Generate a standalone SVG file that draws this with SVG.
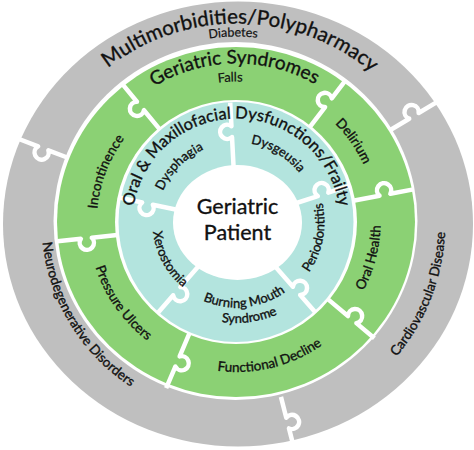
<svg xmlns="http://www.w3.org/2000/svg" width="474" height="450" viewBox="0 0 474 450">
<style>
.t{font-family:Lato,"Liberation Sans",sans-serif;fill:#111;stroke:#111;stroke-width:0.35}
.dv{fill:none;stroke:#fff;stroke-width:4.5;stroke-linejoin:round}
</style>
<defs>
<path id="pMulti" d="M35.8,184.5 A205,199 0 0 1 439.5,191.4"/>
<path id="pDiab" d="M52.79,193.40 A186,186 0 0 1 419.08,187.01"/>
<path id="pGer" d="M79.54,197.08 A159,159 0 0 1 392.68,192.71"/>
<path id="pFalls" d="M96.71,204.10 A141,141 0 0 1 374.16,191.98"/>
<path id="pOral" d="M132.5,222.5 A104,104 0 0 1 340.5,222.5"/>
<path id="pDysph" d="M171.37,268.96 A80,80 0 0 1 281.81,156.57"/>
<path id="pDysg" d="M176.12,170.02 A80,80 0 0 1 311.19,251.17"/>
<path id="pPerio" d="M235.27,310.49 A88,88 0 0 0 267.75,140.23"/>
<path id="pXero" d="M184.32,156.67 A84,84 0 0 0 263.01,302.21"/>
<path id="pBurn" d="M154.79,245.93 A85,85 0 0 0 321.29,228.43"/>
<path id="pSynd" d="M140.76,253.06 A100.5,100.5 0 0 0 336.92,226.53"/>
<path id="pIncon" d="M163.98,342.25 A140,140 0 0 1 263.69,85.17"/>
<path id="pDel" d="M177.99,95.86 A139.5,139.5 0 0 1 334.80,321.49"/>
<path id="pOH" d="M224.45,365.99 A144,144 0 0 0 296.90,91.78"/>
<path id="pFunc" d="M99.71,282.83 A149.5,149.5 0 0 0 385.67,212.59"/>
<path id="pPress" d="M131.30,118.40 A148,148 0 0 0 299.75,356.30"/>
<path id="pCardio" d="M195.55,427.44 A209,209 0 0 0 345.09,44.0"/>
<path id="pNeuro" d="M106.23,75.73 A197,197 0 0 0 308.39,405.92"/>
</defs>
<g id="rings">
<ellipse cx="238" cy="224" rx="235" ry="222.5" fill="#bfbfbf"/>
<ellipse cx="235.5" cy="221" rx="182" ry="179" fill="#fff"/>
<ellipse cx="236" cy="222" rx="179" ry="175" fill="#8bd174"/>
<ellipse cx="236" cy="222" rx="121" ry="122" fill="#fff"/>
<ellipse cx="236" cy="222" rx="117.5" ry="120" fill="#b3e4de"/>
<ellipse cx="237.5" cy="222.5" rx="64.5" ry="57.5" fill="#fff"/>
</g>
<g id="connectors">
<path class="dv" d="M68.46,157.99 L48.38,150.29 A7.1,7.1 0 1 1 38.11,146.35 L12.44,136.49"/>
<path class="dv" d="M390.79,129.79 L409.22,118.72 A7.1,7.1 0 1 1 418.65,113.05 L442.22,98.89"/>
<path class="dv" d="M280.96,396.92 L286.27,417.76 A7.1,7.1 0 1 1 288.99,428.42 L295.78,455.06"/>
<path class="dv" d="M160.17,129.91 L143.95,110.23 A7.1,7.1 0 1 1 136.95,101.74 L122.01,83.61"/>
<path class="dv" d="M309.55,127.30 L325.07,107.07 A7.1,7.1 0 1 1 331.77,98.34 L346.08,79.70"/>
<path class="dv" d="M354.45,200.43 L379.52,195.74 A7.1,7.1 0 1 1 390.33,193.71 L413.43,189.39"/>
<path class="dv" d="M328.42,299.63 L347.96,316.03 A7.1,7.1 0 1 1 356.39,323.10 L374.39,338.20"/>
<path class="dv" d="M189.61,332.96 L179.65,356.43 A7.1,7.1 0 1 1 175.35,366.56 L166.17,388.19"/>
<path class="dv" d="M117.16,235.04 L91.80,237.71 A7.1,7.1 0 1 1 80.86,238.86 L57.49,241.32"/>
<path class="dv" d="M233.62,167.58 L232.02,137.12 A7.1,7.1 0 1 1 231.45,126.13 L230.22,102.66"/>
<path class="dv" d="M288.81,205.50 L317.82,196.08 A7.1,7.1 0 1 1 328.28,192.68 L350.63,185.42"/>
<path class="dv" d="M272.81,263.81 L292.94,286.72 A7.1,7.1 0 1 1 300.20,294.99 L315.71,312.64"/>
<path class="dv" d="M200.42,264.01 L180.41,287.03 A7.1,7.1 0 1 1 173.19,295.33 L157.77,313.07"/>
<path class="dv" d="M182.70,211.06 L152.87,204.72 A7.1,7.1 0 1 1 142.11,202.44 L119.12,197.55"/>
</g>
<g id="outer-ring">
<text class="t" font-size="20.5" text-anchor="middle"><textPath href="#pMulti" startOffset="50%">Multimorbidities/Polypharmacy</textPath></text>
<text class="t" font-size="12.5" text-anchor="middle" style="stroke-width:0.2"><textPath href="#pDiab" startOffset="50%">Diabetes</textPath></text>
</g>
<g id="cardiovascular"><text class="t" font-size="13.5" text-anchor="middle"><textPath href="#pCardio" startOffset="50%">Cardiovascular Disease</textPath></text></g>
<g id="neurodegenerative"><text class="t" font-size="13.5" text-anchor="middle"><textPath href="#pNeuro" startOffset="50%">Neurodegenerative Disorders</textPath></text></g>
<g id="geriatric-syndromes">
<text class="t" font-size="19" text-anchor="middle"><textPath href="#pGer" startOffset="50%">Geriatric Syndromes</textPath></text>
<text class="t" font-size="13" text-anchor="middle" style="stroke-width:0.2"><textPath href="#pFalls" startOffset="50%">Falls</textPath></text>
</g>
<g id="delirium"><text class="t" font-size="13.5" text-anchor="middle"><textPath href="#pDel" startOffset="50%">Delirium</textPath></text></g>
<g id="oral-health"><text class="t" font-size="13.5" text-anchor="middle"><textPath href="#pOH" startOffset="50%">Oral Health</textPath></text></g>
<g id="functional-decline"><text class="t" font-size="13.5" text-anchor="middle"><textPath href="#pFunc" startOffset="50%">Functional Decline</textPath></text></g>
<g id="pressure-ulcers"><text class="t" font-size="13.5" text-anchor="middle"><textPath href="#pPress" startOffset="50%">Pressure Ulcers</textPath></text></g>
<g id="incontinence"><text class="t" font-size="13.5" text-anchor="middle"><textPath href="#pIncon" startOffset="50%">Incontinence</textPath></text></g>
<g id="oral-maxillofacial"><text class="t" font-size="16.5" text-anchor="middle"><textPath href="#pOral" startOffset="50%">Oral &amp; Maxillofacial Dysfunctions/Frailty</textPath></text></g>
<g id="dysphagia"><text class="t" font-size="13" text-anchor="middle"><textPath href="#pDysph" startOffset="50%">Dysphagia</textPath></text></g>
<g id="dysgeusia"><text class="t" font-size="13" text-anchor="middle"><textPath href="#pDysg" startOffset="50%">Dysgeusia</textPath></text></g>
<g id="periodontitis"><text class="t" font-size="13" text-anchor="middle"><textPath href="#pPerio" startOffset="50%">Periodontitis</textPath></text></g>
<g id="xerostomia"><text class="t" font-size="13" text-anchor="middle"><textPath href="#pXero" startOffset="50%">Xerostomia</textPath></text></g>
<g id="burning-mouth">
<text class="t" font-size="13" text-anchor="middle"><textPath href="#pBurn" startOffset="50%">Burning Mouth</textPath></text>
<text class="t" font-size="13" text-anchor="middle"><textPath href="#pSynd" startOffset="50%">Syndrome</textPath></text>
</g>
<g id="geriatric-patient">
<text class="t" font-size="21.5" text-anchor="middle" x="237.5" y="214">Geriatric</text>
<text class="t" font-size="21.5" text-anchor="middle" x="237.5" y="240">Patient</text>
</g>
</svg>
